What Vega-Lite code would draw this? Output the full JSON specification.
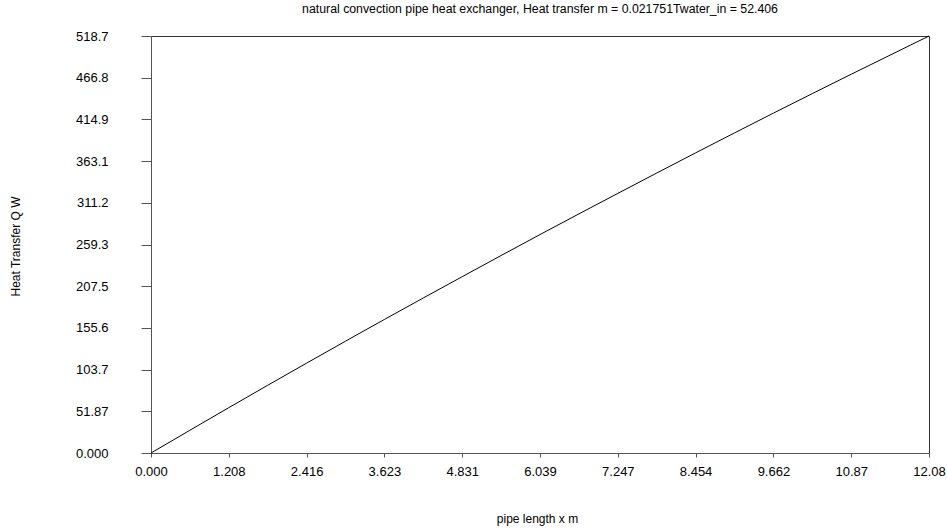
{
  "$schema": "https://vega.github.io/schema/vega-lite/v6.json",
  "width": 778,
  "height": 417,
  "autosize": {"type": "none"},
  "padding": {"left": 151, "top": 36, "right": 18, "bottom": 76},
  "background": "white",
  "title": {
    "text": "natural convection pipe heat exchanger, Heat transfer m = 0.021751Twater_in = 52.406",
    "font": "Liberation Sans",
    "fontSize": 12.3,
    "fontWeight": "normal",
    "color": "#000000",
    "anchor": "middle",
    "frame": "group",
    "offset": 15
  },
  "data": {
    "values": [
      {"x": 0, "q": 0},
      {"x": 1.208, "q": 56.4},
      {"x": 2.416, "q": 111.8},
      {"x": 3.623, "q": 166.1},
      {"x": 4.831, "q": 219.3},
      {"x": 6.039, "q": 271.7},
      {"x": 7.247, "q": 322.9},
      {"x": 8.454, "q": 373.3},
      {"x": 9.662, "q": 422.7},
      {"x": 10.87, "q": 471.1},
      {"x": 12.0775, "q": 518.66}
    ]
  },
  "mark": {"type": "line", "color": "#000000", "strokeWidth": 1, "interpolate": "monotone"},
  "encoding": {
    "x": {
      "field": "x",
      "type": "quantitative",
      "scale": {"domain": [0, 12.0775], "nice": false, "zero": false},
      "axis": {
        "values": [0, 1.208, 2.416, 3.623, 4.831, 6.039, 7.247, 8.454, 9.662, 10.87, 12.0775],
        "labelExpr": "datum.value == 0 ? '0.000' : format(datum.value, '.4r')",
        "title": "pipe length x m",
        "titleX": 386,
        "titleY": 65,
        "titleAlign": "center",
        "titleBaseline": "middle",
        "tickSize": 4,
        "labelPadding": 8,
        "labelFlush": false,
        "labelOverlap": false
      }
    },
    "y": {
      "field": "q",
      "type": "quantitative",
      "scale": {"domain": [0, 518.66], "nice": false, "zero": false},
      "axis": {
        "values": [0, 51.866, 103.732, 155.598, 207.464, 259.33, 311.196, 363.062, 414.928, 466.794, 518.66],
        "labelExpr": "datum.value == 0 ? '0.000' : format(datum.value, '.4r')",
        "title": "Heat Transfer Q W",
        "titleX": -136,
        "titleY": 210,
        "titleAngle": -90,
        "titleAlign": "center",
        "titleBaseline": "middle",
        "tickSize": 10,
        "labelPadding": 33,
        "labelFlush": false,
        "labelOverlap": false
      }
    }
  },
  "config": {
    "view": {"stroke": "#333333", "strokeWidth": 1},
    "axis": {
      "grid": false,
      "domainColor": "#555555",
      "tickColor": "#555555",
      "labelColor": "#000000",
      "titleColor": "#000000",
      "labelFont": "Liberation Sans",
      "titleFont": "Liberation Sans",
      "labelFontSize": 13,
      "titleFontSize": 12,
      "titleFontWeight": "normal"
    }
  }
}
